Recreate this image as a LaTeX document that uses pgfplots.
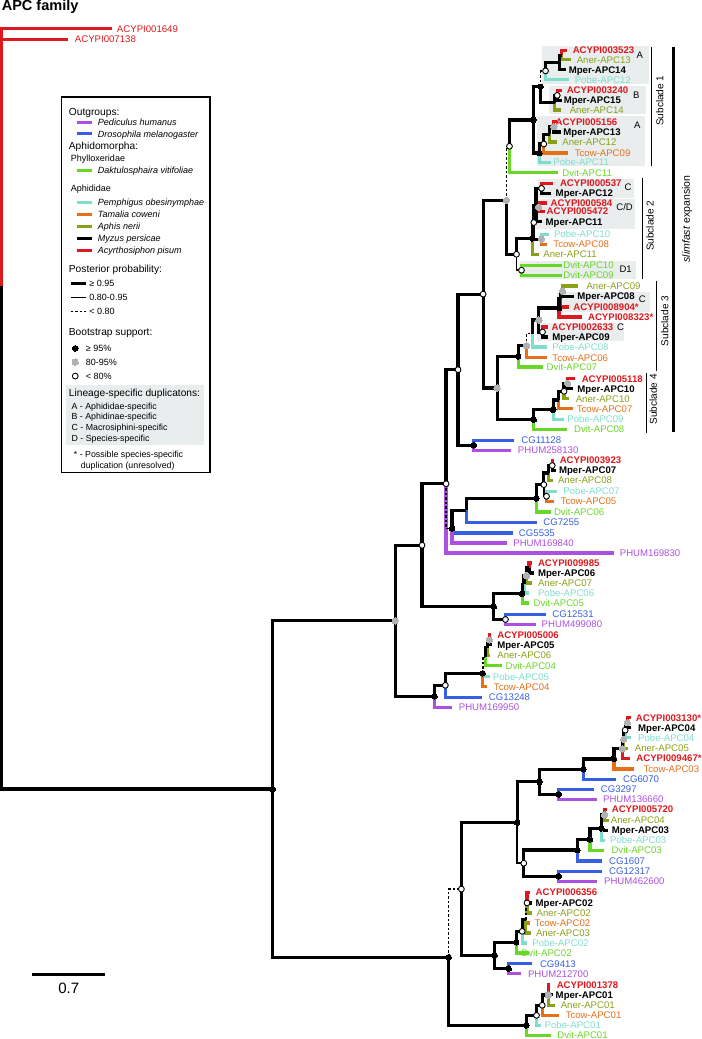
\documentclass[border=0pt]{standalone}
\usepackage{fontspec}
\setmainfont{Liberation Sans}
\usepackage{pgfplots}
\pgfplotsset{compat=1.18}
\definecolor{cR}{RGB}{222,25,30}
\definecolor{cO}{RGB}{138,160,25}
\definecolor{cC}{RGB}{125,222,205}
\definecolor{cT}{RGB}{228,112,28}
\definecolor{cG}{RGB}{105,215,40}
\definecolor{cB}{RGB}{55,95,225}
\definecolor{cP}{RGB}{172,80,225}
\definecolor{cBox}{RGB}{233,237,238}
\definecolor{cDot}{RGB}{175,178,178}
\pgfplotsset{
 brT/.style={line width=3.2bp, line join=miter, line cap=butt, solid},
 brM/.style={line width=1.5bp, line join=miter, line cap=butt, solid},
 brD/.style={line width=1.6bp, line cap=butt, dash pattern=on 2.5bp off 2bp},
 dotK/.style={only marks, mark=*, mark size=2.8bp, mark options={fill=black, draw=black, line width=0pt, solid}},
 dotG/.style={only marks, mark=*, mark size=3.2bp, mark options={fill=cDot, draw=cDot, line width=0pt, solid}},
 dotW/.style={only marks, mark=*, mark size=2.9bp, mark options={fill=white, draw=black, line width=0.9bp, solid}},
}
\tikzset{
 lab/.style={anchor=base west, inner sep=0pt, yshift=-3.4bp, font=\fontsize{9.6bp}{11bp}\selectfont},
 lh/.style={anchor=base west, inner sep=0pt, yshift=-3.65bp, font=\fontsize{10.2bp}{12bp}\selectfont},
 ls/.style={anchor=base west, inner sep=0pt, yshift=-3.2bp, font=\fontsize{9bp}{11bp}\selectfont},
 la/.style={anchor=base west, inner sep=0pt, yshift=-3.15bp, font=\fontsize{8.8bp}{10bp}\selectfont},
 sl/.style={inner sep=0pt, rotate=90, anchor=center, font=\fontsize{10bp}{12bp}\selectfont},
 let/.style={inner sep=0pt, anchor=center, font=\fontsize{9.5bp}{11bp}\selectfont},
}
\newcommand{\br}[5]{\addplot[#1] coordinates {(#2,#3) (#2,#4) (#5,#4)};}
\newcommand{\lb}[4]{\node[lab,text=#1] at (axis cs:#2,#3) {#4};}
\newcommand{\lbb}[4]{\node[lab,text=#1] at (axis cs:#2,#3) {\bfseries #4};}
\begin{document}
\begin{tikzpicture}
\begin{axis}[scale only axis, width=703bp, height=1039bp,
 xmin=0, xmax=703, ymin=0, ymax=1039, y dir=reverse,
 hide axis, clip=false]
% ---------- gray boxes ----------
\fill[cBox] (axis cs:541,46.7) rectangle (axis cs:648.3,85);
\fill[cBox] (axis cs:548.3,86.7) rectangle (axis cs:645,115);
\fill[cBox] (axis cs:536,116.7) rectangle (axis cs:644.3,166.7);
\fill[cBox] (axis cs:537.7,180) rectangle (axis cs:633.3,199);
\fill[cBox] (axis cs:535,200) rectangle (axis cs:634.3,230);
\fill[cBox] (axis cs:519.3,261.7) rectangle (axis cs:635,280);
\fill[cBox] (axis cs:556,293) rectangle (axis cs:649.3,312.7);
\fill[cBox] (axis cs:536.7,323.3) rectangle (axis cs:623.3,341.7);
% ---------- legend ----------
\draw[line width=1.3bp, fill=white] (axis cs:62,98) rectangle (axis cs:210,473);
\fill[cBox] (axis cs:66,386) rectangle (axis cs:204,445.7);
\node[lh] at (axis cs:69,112.5) {Outgroups:};
\draw[line width=3bp, cP] (axis cs:77,123.5) -- (axis cs:92,123.5);
\node[ls] at (axis cs:98,123.5) {\itshape Pediculus humanus};
\draw[line width=3bp, cB] (axis cs:77,135) -- (axis cs:92,135);
\node[ls] at (axis cs:98,135) {\itshape Drosophila melanogaster};
\node[lh] at (axis cs:69,147) {Aphidomorpha:};
\node[ls] at (axis cs:71,159) {Phylloxeridae};
\draw[line width=3bp, cG] (axis cs:77,171) -- (axis cs:92,171);
\node[ls] at (axis cs:98,171) {\itshape Daktulosphaira vitifoliae};
\node[ls] at (axis cs:71,189) {Aphididae};
\draw[line width=3bp, cC] (axis cs:77,203) -- (axis cs:92,203);
\node[ls] at (axis cs:98,203) {\itshape Pemphigus obesinymphae};
\draw[line width=3bp, cT] (axis cs:77,215) -- (axis cs:92,215);
\node[ls] at (axis cs:98,215) {\itshape Tamalia coweni};
\draw[line width=3bp, cO] (axis cs:77,227) -- (axis cs:92,227);
\node[ls] at (axis cs:98,227) {\itshape Aphis nerii};
\draw[line width=3bp, black] (axis cs:77,239) -- (axis cs:92,239);
\node[ls] at (axis cs:98,239) {\itshape Myzus persicae};
\draw[line width=3bp, cR] (axis cs:77,251) -- (axis cs:92,251);
\node[ls] at (axis cs:98,251) {\itshape Acyrthosiphon pisum};
\node[lh] at (axis cs:69,270) {Posterior probability:};
\draw[line width=3.2bp] (axis cs:71,284) -- (axis cs:86,284);
\node[ls] at (axis cs:89.5,284) {≥ 0.95};
\draw[line width=1.5bp] (axis cs:71,298.3) -- (axis cs:86,298.3);
\node[ls] at (axis cs:89.5,298.3) {0.80-0.95};
\draw[line width=1.6bp, dash pattern=on 2.5bp off 2bp] (axis cs:71,312.3) -- (axis cs:86,312.3);
\node[ls] at (axis cs:89.5,312.3) {< 0.80};
\node[lh] at (axis cs:69,332.7) {Bootstrap support:};
\addplot[dotK] coordinates {(75.5,349)};
\addplot[dotG] coordinates {(75.5,362.7)};
\addplot[dotW] coordinates {(75.5,376.7)};
\node[ls] at (axis cs:86,349) {≥ 95\%};
\node[ls] at (axis cs:86,362.7) {80-95\%};
\node[ls] at (axis cs:86,376.7) {< 80\%};
\node[lh] at (axis cs:69,393.3) {Lineage-specific duplicatons:};
\node[la] at (axis cs:71.7,406.7) {A - Aphididae-specific};
\node[la] at (axis cs:71.7,417.3) {B - Aphidinae-specific};
\node[la] at (axis cs:71.7,428.3) {C - Macrosiphini-specific};
\node[la] at (axis cs:71.7,439) {D - Species-specific};
\node[la] at (axis cs:74,455) {* - Possible species-specific};
\node[la] at (axis cs:81,465.7) {duplication (unresolved)};
% ---------- root ----------
\br{brT,cR}{2}{286.6}{30}{112}
\br{brT,cR}{2}{286.6}{40.7}{68}
\br{brT,black}{2}{286.6}{789}{272.7}
% ---------- subclade 1 ----------
\br{brT,cR}{561}{56.3}{51.5}{566}
\br{brT,cO}{561}{56.3}{61}{570}
\br{brT}{559}{63.5}{56.3}{561}
\br{brT}{559}{63.5}{71}{565}
\br{brT}{545}{72}{63.5}{559}
\br{brT,cC}{545}{72}{81}{568}
\br{brT,cR}{556.7}{96.5}{91.5}{561}
\br{brT}{556.7}{96.5}{101.5}{561}
\br{brT}{554}{103.8}{96.5}{556.7}
\br{brT,cO}{554}{103.8}{111}{560}
\br{brD}{540}{87.9}{72}{545}
\br{brT}{540}{87.9}{103.8}{554}
\br{brT,cR}{553.3}{127.8}{122.7}{556.5}
\br{brT}{553.3}{127.8}{133}{560}
\br{brT}{549}{135.5}{127.8}{553.3}
\br{brT,cO}{549}{135.5}{143}{556}
\br{brT}{543.3}{145}{135.5}{549}
\br{brT,cT}{543.3}{145}{154}{567}
\br{brT}{538.7}{154}{145}{543.3}
\br{brT,cC}{538.7}{154}{163.5}{550}
\br{brT}{532.7}{121}{87.9}{540}
\br{brT}{532.7}{121}{154}{538.7}
\br{brT}{509}{147.3}{121}{532.7}
\br{brT,cG}{509}{147.3}{173.7}{557}
% ---------- subclade 2 ----------
\br{brT,cR}{541}{189.3}{184.3}{552}
\br{brT}{541}{189.3}{194.3}{550}
\br{brT,cR}{538}{208.2}{204}{546}
\br{brT,cR}{538}{208.2}{212.3}{544}
\br{brT}{535.5}{206.7}{189.3}{541}
\br{brT}{535.5}{206.7}{208.2}{538}
\br{brT}{535.5}{206.7}{222.7}{541}
\br{brT,cC}{541}{240}{235}{548}
\br{brT,cT}{541}{240}{245}{546}
\br{brT}{533.3}{223.4}{206.7}{535.5}
\br{brT}{533.3}{223.4}{240}{541}
\br{brT}{531.7}{239.2}{223.4}{533.3}
\br{brT,cO}{531.7}{239.2}{255}{538}
\br{brT,cG}{521}{271}{266}{561.7}
\br{brT,cG}{521}{271}{276}{561.7}
\br{brT}{516}{255.1}{239.2}{531.7}
\br{brM}{516}{255.1}{271}{521}
\br{brD}{506}{201.2}{147.3}{509}
\br{brT}{506}{201.2}{255.1}{516}
% ---------- subclade 3 ----------
\br{brT,cO}{562}{292}{286.7}{577}
\br{brT}{562}{292}{297.3}{573}
\br{brT}{560}{299.8}{292}{562}
\br{brT,cR}{560}{299.8}{307.7}{568}
\br{brT}{558.5}{308.8}{299.8}{560}
\br{brT,cR}{558.5}{308.8}{317.7}{581}
\br{brT,cR}{542}{332.7}{327.7}{547}
\br{brT}{542}{332.7}{337.7}{547}
\br{brT}{538.3}{320.8}{308.8}{558.5}
\br{brT}{538.3}{320.8}{332.7}{542}
\br{brT}{531.7}{334.2}{320.8}{538.3}
\br{brT,cC}{531.7}{334.2}{347.7}{546.7}
\br{brD}{526}{346.3}{334.2}{531.7}
\br{brT,cT}{526}{346.3}{358.3}{546.7}
\br{brT}{517.7}{357}{346.3}{526}
\br{brT,cG}{517.7}{357}{367.7}{542.3}
% ---------- subclade 4 ----------
\br{brT,cR}{567}{384}{379.3}{574.3}
\br{brT}{567}{384}{389.3}{572}
\br{brT}{563.5}{391.8}{384}{567}
\br{brT,cO}{563.5}{391.8}{399.3}{568.3}
\br{brT}{558.3}{400.6}{391.8}{563.5}
\br{brT,cT}{558.3}{400.6}{409.3}{572.7}
\br{brT}{552.7}{410.3}{400.6}{558.3}
\br{brT,cC}{552.7}{410.3}{420}{563.3}
\br{brT}{533.3}{420.2}{410.3}{552.7}
\br{brT,cG}{533.3}{420.2}{430}{566.7}
\br{brT}{496.7}{388.6}{357}{517.7}
\br{brT}{496.7}{388.6}{420.2}{533.3}
\br{brT}{482.7}{294.9}{201.2}{506}
\br{brT}{482.7}{294.9}{388.6}{496.7}
\br{brT,cB}{473.3}{445.7}{440.7}{513.3}
\br{brT,cP}{473.3}{445.7}{450.7}{510.7}
\br{brT}{457.7}{370.3}{294.9}{482.7}
\br{brT}{457.7}{370.3}{445.7}{473.3}
% ---------- APC07 group ----------
\br{brT,cR}{551.7}{466}{461}{553.5}
\br{brT}{551.7}{466}{471}{555}
\br{brT}{548.3}{473.5}{466}{551.7}
\br{brT,cO}{548.3}{473.5}{481}{552}
\br{brT,cC}{546}{496.7}{491.7}{556}
\br{brT,cT}{546}{496.7}{501.7}{553.3}
\br{brT}{543.3}{485.1}{473.5}{548.3}
\br{brM}{543.3}{485.1}{496.7}{546}
\br{brT}{535.7}{498.7}{485.1}{543.3}
\br{brT,cG}{535.7}{498.7}{512.3}{550}
\br{brT}{466}{510.7}{498.7}{535.7}
\br{brT,cB}{466}{510.7}{522.7}{536.7}
\br{brT}{451.7}{528.9}{510.7}{466}
\br{brT,cB}{451.7}{528.9}{533.3}{512.3}
\br{brT,cP}{451.7}{528.9}{543.3}{506.7}
\br{brT}{445.7}{484.2}{370.3}{457.7}
\br{brT,cP}{445.7}{484.2}{553.3}{613.3}
\br{brD}{445.7}{484.2}{528.9}{451.7}
% ---------- APC06 group ----------
\br{brT,cR}{528.5}{568.3}{563.3}{531}
\br{brT}{528.5}{568.3}{573.3}{533}
\br{brT}{526}{575.8}{568.3}{528.5}
\br{brT,cO}{526}{575.8}{583.3}{531}
\br{brT}{523.5}{584.6}{575.8}{526}
\br{brT,cC}{523.5}{584.6}{593.3}{528}
\br{brT}{521.7}{594}{584.6}{523.5}
\br{brT,cG}{521.7}{594}{603.3}{528}
\br{brT,cB}{505}{619.7}{614.7}{545}
\br{brT,cP}{505}{619.7}{624.7}{535}
\br{brT}{493.3}{606.9}{594}{521.7}
\br{brT}{493.3}{606.9}{619.7}{505}
\br{brT}{421.7}{545.6}{484.2}{445.7}
\br{brT}{421.7}{545.6}{606.9}{493.3}
% ---------- APC05 group ----------
\br{brT,cR}{489}{640}{635}{491}
\br{brT}{489}{640}{645}{492}
\br{brT}{487}{647.8}{640}{489}
\br{brT,cO}{487}{647.8}{655.7}{490}
\br{brT}{485}{656.9}{647.8}{487}
\br{brT,cG}{485}{656.9}{666}{502}
\br{brD}{482.3}{673.4}{656.9}{485}
\br{brT,cC}{482.3}{673.4}{676.7}{490}
\br{brT,cT}{482.3}{673.4}{686.7}{487}
\br{brT}{445}{685.4}{673.4}{482.3}
\br{brT,cB}{445}{685.4}{697.3}{481.7}
\br{brT}{434.3}{696.4}{685.4}{445}
\br{brT,cP}{434.3}{696.4}{707.3}{451.7}
\br{brT}{395}{621}{545.6}{421.7}
\br{brT}{395}{621}{696.4}{434.3}
\br{brT}{272.7}{789}{621}{395}
\br{brT}{272.7}{789}{956.8}{448.3}
% ---------- lower clade ----------
\br{brT,cR}{626.7}{722.7}{717.7}{630}
\br{brT}{626.7}{722.7}{727.7}{630}
\br{brT}{624.5}{730.2}{722.7}{626.7}
\br{brT,cC}{624.5}{730.2}{737.7}{630}
\br{brT}{623}{739.3}{730.2}{624.5}
\br{brT,cO}{623}{739.3}{748.3}{627}
\br{brT}{621.7}{748.8}{739.3}{623}
\br{brT,cR}{621.7}{748.8}{758.3}{629.3}
\br{brT}{613.3}{758.9}{748.8}{621.7}
\br{brT,cT}{613.3}{758.9}{769}{633.3}
\br{brT}{582.7}{769.2}{758.9}{613.3}
\br{brT,cB}{582.7}{769.2}{779.3}{615}
\br{brT,cB}{558.3}{794.3}{789.3}{593.3}
\br{brT,cP}{558.3}{794.3}{799.3}{596.7}
\br{brT}{539}{781.8}{769.2}{582.7}
\br{brT}{539}{781.8}{794.3}{558.3}
\br{brT,cR}{604}{814.7}{809.3}{606}
\br{brT,cO}{604}{814.7}{820}{608}
\br{brT}{600.7}{828.2}{814.7}{604}
\br{brT}{600.7}{828.2}{830}{607}
\br{brT,cC}{600.7}{828.2}{840}{604}
\br{brT}{589.3}{839.1}{828.2}{600.7}
\br{brT,cG}{589.3}{839.1}{850}{603.3}
\br{brT}{576.7}{849.9}{839.1}{589.3}
\br{brT,cB}{576.7}{849.9}{860.7}{601.7}
\br{brT,cB}{558.3}{876}{871}{601.7}
\br{brT,cP}{558.3}{876}{881}{596.7}
\br{brT}{523.3}{863}{849.9}{576.7}
\br{brT}{523.3}{863}{876}{558.3}
\br{brT}{516.7}{822.4}{781.8}{539}
\br{brM}{516.7}{822.4}{863}{523.3}
\br{brT,cR}{526.5}{902.6}{892.3}{529}
\br{brT}{526.5}{902.6}{902.7}{531}
\br{brT,cO}{526.5}{902.6}{912.7}{531}
\br{brD}{525.3}{919.4}{902.6}{526.5}
\br{brT,cT}{525.3}{919.4}{922.7}{529}
\br{brT,cO}{525.3}{919.4}{932.7}{530}
\br{brT}{521.7}{931}{919.4}{525.3}
\br{brT,cC}{521.7}{931}{942.7}{526}
\br{brT}{515.7}{941.9}{931}{521.7}
\br{brT,cG}{515.7}{941.9}{952.7}{528.3}
\br{brT,cB}{508.3}{968.3}{963.3}{531.7}
\br{brT,cP}{508.3}{968.3}{973.3}{520.7}
\br{brT}{494.3}{955.1}{941.9}{515.7}
\br{brT}{494.3}{955.1}{968.3}{508.3}
\br{brT}{461}{888.8}{822.4}{516.7}
\br{brT}{461}{888.8}{955.1}{494.3}
\br{brT,cR}{547.7}{994.5}{984.3}{549.5}
\br{brT}{547.7}{994.5}{994.3}{552}
\br{brT,cO}{547.7}{994.5}{1005}{554}
\br{brT}{541.7}{1004.8}{994.5}{547.7}
\br{brT,cT}{541.7}{1004.8}{1015}{558.3}
\br{brT}{536}{1014.9}{1004.8}{541.7}
\br{brT,cC}{536}{1014.9}{1025}{540}
\br{brT}{525.7}{1025}{1014.9}{536}
\br{brT,cG}{525.7}{1025}{1035}{550}
\br{brD}{448.3}{956.8}{888.8}{461}
\br{brT}{448.3}{956.8}{1025}{525.7}
% ---------- node dots ----------
\addplot[dotK] coordinates {(540,87.9) (532.7,121) (538.7,154) (531.7,239.2) (558.5,308.8) (517.7,357) (552.7,410.3) (533.3,420.2) (473.3,445.7) (535.7,498.7) (451.7,528.9) (493.3,606.9) (521.7,594) (482.3,673.4) (434.3,696.4) (272.7,789) (613.3,758.9) (582.7,769.2) (558.3,794.3) (539,781.8) (600.7,828.2) (589.3,839.1) (576.7,849.9) (558.3,876) (516.7,822.4) (494.3,955.1) (515.7,941.9) (508.3,968.3) (448.3,956.8) (525.7,1025)};
\addplot[dotG] coordinates {(506,201.2) (553.3,127.8) (538,208.2) (541,240) (562,292) (538.3,320.8) (526,346.3) (496.7,388.6) (567,384) (526,575.8) (395,621) (489,640) (626.7,722.7) (623,739.3) (621.7,748.8) (604,814.7) (547.7,994.5)};
\addplot[dotW] coordinates {(545,72) (556.7,96.5) (543.3,145) (509,147.3) (541,189.3) (533.3,223.4) (516,255.1) (521,271) (542,332.7) (482.7,294.9) (457.7,370.3) (563.5,391.8) (551.7,466) (543.3,485.1) (546,496.7) (445.7,484.2) (421.7,545.6) (505,619.7) (445,685.4) (624.5,730.2) (523.3,863) (461,888.8) (526.5,902.6) (521.7,931) (541.7,1004.8) (536,1014.9)};
% ---------- leaf labels ----------
\lb{cR}{117}{30}{ACYPI001649}
\lb{cR}{75}{40.7}{ACYPI007138}
\lbb{cR}{572}{51.5}{ACYPI003523}
\lb{cO}{576}{61}{Aner-APC13}
\lbb{black}{568}{71}{Mper-APC14}
\lb{cC}{574}{81}{Pobe-APC12}
\lbb{cR}{566}{91.5}{ACYPI003240}
\lbb{black}{563}{101.5}{Mper-APC15}
\lb{cO}{569}{111}{Aner-APC14}
\lbb{cR}{555}{122.7}{ACYPI005156}
\lbb{black}{562.7}{133}{Mper-APC13}
\lb{cO}{561.7}{143}{Aner-APC12}
\lb{cT}{574}{153.7}{Tcow-APC09}
\lb{cC}{552.7}{163.5}{Pobe-APC11}
\lb{cG}{561.7}{173.7}{Dvit-APC11}
\lbb{cR}{559.3}{184.3}{ACYPI000537}
\lbb{black}{555}{194.3}{Mper-APC12}
\lbb{cR}{550}{204}{ACYPI000584}
\lbb{cR}{546}{212.3}{ACYPI005472}
\lbb{black}{545}{222.7}{Mper-APC11}
\lb{cC}{553.3}{235}{Pobe-APC10}
\lb{cT}{552.7}{245}{Tcow-APC08}
\lb{cO}{542.7}{255}{Aner-APC11}
\lb{cG}{562.7}{266}{Dvit-APC10}
\lb{cG}{562.7}{276}{Dvit-APC09}
\lb{cO}{585.7}{286.7}{Aner-APC09}
\lbb{black}{576.7}{297.3}{Mper-APC08}
\lbb{cR}{572.7}{307.7}{ACYPI008904*}
\lbb{cR}{587.3}{317.7}{ACYPI008323*}
\lbb{cR}{551}{327.7}{ACYPI002633}
\lbb{black}{551.7}{337.7}{Mper-APC09}
\lb{cC}{551.7}{347.7}{Pobe-APC08}
\lb{cT}{551.7}{358.3}{Tcow-APC06}
\lb{cG}{546}{367.7}{Dvit-APC07}
\lbb{cR}{581}{379.3}{ACYPI005118}
\lbb{black}{576.7}{389.3}{Mper-APC10}
\lb{cO}{575}{399.3}{Aner-APC10}
\lb{cT}{576}{409.3}{Tcow-APC07}
\lb{cC}{566.7}{420}{Pobe-APC09}
\lb{cG}{573.3}{430}{Dvit-APC08}
\lb{cB}{520.7}{440.7}{CG11128}
\lb{cP}{517.3}{450.7}{PHUM258130}
\lbb{cR}{559}{461}{ACYPI003923}
\lbb{black}{558.3}{471}{Mper-APC07}
\lb{cO}{557.3}{481}{Aner-APC08}
\lb{cC}{562.7}{491.7}{Pobe-APC07}
\lb{cT}{560}{501.7}{Tcow-APC05}
\lb{cG}{553.3}{512.3}{Dvit-APC06}
\lb{cB}{542.7}{522.7}{CG7255}
\lb{cB}{518.3}{533.3}{CG5535}
\lb{cP}{512.7}{543.3}{PHUM169840}
\lb{cP}{619}{553.3}{PHUM169830}
\lbb{cR}{537.3}{563.3}{ACYPI009985}
\lbb{black}{537.3}{573.3}{Mper-APC06}
\lb{cO}{537.3}{583.3}{Aner-APC07}
\lb{cC}{537.3}{593.3}{Pobe-APC06}
\lb{cG}{533}{603.8}{Dvit-APC05}
\lb{cB}{551.7}{614.7}{CG12531}
\lb{cP}{541}{624.7}{PHUM499080}
\lbb{cR}{496.7}{635}{ACYPI005006}
\lbb{black}{496.7}{645}{Mper-APC05}
\lb{cO}{496.7}{655.7}{Aner-APC06}
\lb{cG}{505}{666}{Dvit-APC04}
\lb{cC}{492.3}{676.7}{Pobe-APC05}
\lb{cT}{493.3}{686.7}{Tcow-APC04}
\lb{cB}{488.3}{697.3}{CG13248}
\lb{cP}{458.3}{707.3}{PHUM169950}
\lbb{cR}{635}{717.7}{ACYPI003130*}
\lbb{black}{637.3}{727.7}{Mper-APC04}
\lb{cC}{637.3}{737.7}{Pobe-APC04}
\lb{cO}{634}{748}{Aner-APC05}
\lbb{cR}{635.5}{758.3}{ACYPI009467*}
\lb{cT}{642.7}{769}{Tcow-APC03}
\lb{cB}{622.3}{779.3}{CG6070}
\lb{cB}{600}{789.3}{CG3297}
\lb{cP}{602.3}{799.3}{PHUM136660}
\lbb{cR}{611}{809.3}{ACYPI005720}
\lb{cO}{610}{820}{Aner-APC04}
\lbb{black}{611}{830}{Mper-APC03}
\lb{cC}{609.3}{840}{Pobe-APC03}
\lb{cG}{610.7}{850}{Dvit-APC03}
\lb{cB}{608.3}{860.7}{CG1607}
\lb{cB}{608.3}{871}{CG12317}
\lb{cP}{603.3}{881}{PHUM462600}
\lbb{cR}{535}{892.3}{ACYPI006356}
\lbb{black}{535}{902.7}{Mper-APC02}
\lb{cO}{536}{912.7}{Aner-APC02}
\lb{cT}{534}{922.7}{Tcow-APC02}
\lb{cO}{535.3}{932.7}{Aner-APC03}
\lb{cC}{531.7}{942.7}{Pobe-APC02}
\lb{cG}{520.7}{952.7}{Dvit-APC02}
\lb{cB}{539.3}{963.3}{CG9413}
\lb{cP}{527.3}{973.3}{PHUM212700}
\lbb{cR}{556}{984.3}{ACYPI001378}
\lbb{black}{555}{994.3}{Mper-APC01}
\lb{cO}{560}{1005}{Aner-APC01}
\lb{cT}{565}{1015}{Tcow-APC01}
\lb{cC}{544}{1025}{Pobe-APC01}
\lb{cG}{556.7}{1035}{Dvit-APC01}
% ---------- duplication letters ----------
\node[let] at (axis cs:639,56) {A};
\node[let] at (axis cs:635.7,96) {B};
\node[let] at (axis cs:636.7,126) {A};
\node[let] at (axis cs:627.3,188.3) {C};
\node[let] at (axis cs:624,208.3) {C/D};
\node[let] at (axis cs:625,270) {D1};
\node[let] at (axis cs:641.7,300) {C};
\node[let] at (axis cs:620,328.3) {C};
% ---------- subclade brackets ----------
\draw[line width=1.2bp] (axis cs:650.7,48.3) -- (axis cs:650.7,166.7);
\node[sl] at (axis cs:659,101.7) {Subclade 1};
\draw[line width=1.2bp] (axis cs:641.7,179.3) -- (axis cs:641.7,280);
\node[sl] at (axis cs:649.3,226.7) {Subclade 2};
\draw[line width=1.2bp] (axis cs:656,281.7) -- (axis cs:656,371.7);
\node[sl] at (axis cs:664,321.7) {Subclade 3};
\draw[line width=1.2bp] (axis cs:646,373.3) -- (axis cs:646,433.3);
\node[sl] at (axis cs:652.7,400) {Subclade 4};
\draw[line width=3bp] (axis cs:672.7,48) -- (axis cs:672.7,433);
\node[sl, font=\fontsize{10.5bp}{12bp}\selectfont] at (axis cs:686.5,220) {\textit{slimfast} expansion};
% ---------- title and scale ----------
\node[anchor=west, inner sep=0pt, font=\fontsize{14.5bp}{16bp}\selectfont\bfseries] at (axis cs:2,8) {APC family};
\draw[line width=3.2bp] (axis cs:32.3,974.3) -- (axis cs:105.7,974.3);
\node[anchor=center, inner sep=0pt, font=\fontsize{15bp}{17bp}\selectfont] at (axis cs:69,987.5) {0.7};
\end{axis}
\end{tikzpicture}
\end{document}
